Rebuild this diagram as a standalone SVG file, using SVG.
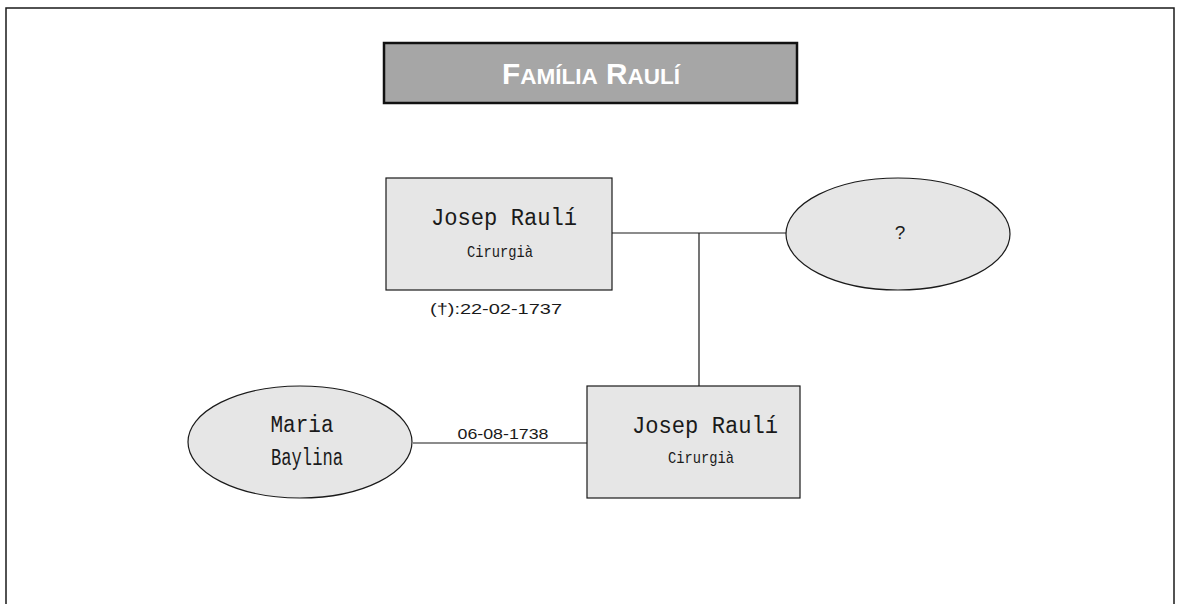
<svg xmlns="http://www.w3.org/2000/svg" width="1177" height="604" viewBox="0 0 1177 604">
<style>
.frame{fill:none;stroke:#1a1a1a;stroke-width:1.5}
.box{fill:#e6e6e6;stroke:#1a1a1a;stroke-width:1.2}
.conn{stroke:#1a1a1a;stroke-width:1.2;fill:none}
.name{font-family:"Liberation Mono","Courier New",monospace;font-size:23px;fill:#1a1a1a;text-anchor:middle}
.job{font-family:"Liberation Mono","Courier New",monospace;font-size:17px;fill:#1a1a1a;text-anchor:middle}
.date{font-family:"Liberation Sans",Arial,sans-serif;font-size:15px;fill:#1a1a1a;text-anchor:middle}
.title{font-family:"Liberation Sans",Arial,sans-serif;font-weight:bold;fill:#ffffff;text-anchor:middle}
</style>
<rect width="1177" height="604" fill="#ffffff"/>
<rect class="frame" x="6" y="8" width="1168" height="610"/>
<g id="title">
<rect x="384" y="43" width="413" height="60" fill="#a6a6a6" stroke="#111" stroke-width="2.5"/>
<text class="title" x="591" y="84" textLength="178" lengthAdjust="spacingAndGlyphs"><tspan font-size="29">F</tspan><tspan font-size="22">AMÍLIA</tspan><tspan font-size="29"> R</tspan><tspan font-size="22">AULÍ</tspan></text>
</g>
<g id="connectors">
<line class="conn" x1="612" y1="233" x2="786" y2="233"/>
<line class="conn" x1="699" y1="233" x2="699" y2="386"/>
<line class="conn" x1="413" y1="443" x2="587" y2="443"/>
<text class="date" x="503" y="439" textLength="91" lengthAdjust="spacingAndGlyphs">06-08-1738</text>
</g>
<g id="node-josep-father">
<rect class="box" x="386" y="178" width="226" height="112"/>
<text class="name" x="504" y="225" textLength="146" lengthAdjust="spacingAndGlyphs">Josep Raulí</text>
<text class="job" x="500" y="257" textLength="66" lengthAdjust="spacingAndGlyphs">Cirurgià</text>
<text class="date" x="496" y="314" textLength="132" lengthAdjust="spacingAndGlyphs">(†):22-02-1737</text>
</g>
<g id="node-unknown">
<ellipse class="box" cx="898" cy="234" rx="112" ry="56"/>
<text x="900" y="239" font-family="Liberation Sans,Arial,sans-serif" font-size="19" fill="#1a1a1a" text-anchor="middle">?</text>
</g>
<g id="node-josep-son">
<rect class="box" x="587" y="386" width="213" height="112"/>
<text class="name" x="705" y="433" textLength="146" lengthAdjust="spacingAndGlyphs">Josep Raulí</text>
<text class="job" x="701" y="463" textLength="66" lengthAdjust="spacingAndGlyphs">Cirurgià</text>
</g>
<g id="node-maria">
<ellipse class="box" cx="300" cy="442" rx="112" ry="56"/>
<text class="name" x="302" y="432" textLength="63" lengthAdjust="spacingAndGlyphs">Maria</text>
<text class="name" x="307" y="465" textLength="72" lengthAdjust="spacingAndGlyphs">Baylina</text>
</g>
</svg>
